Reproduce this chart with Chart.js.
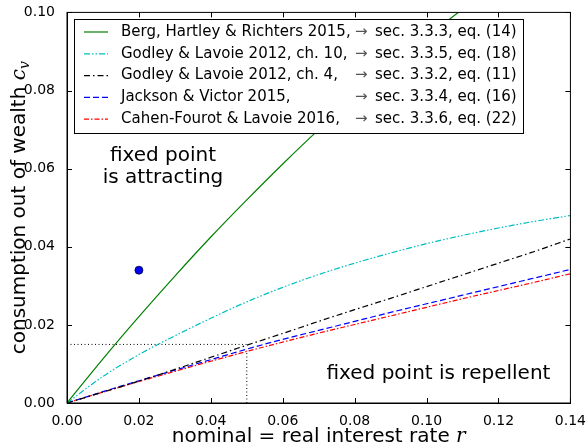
<!DOCTYPE html>
<html>
<head>
<meta charset="utf-8">
<script src="https://cdn.jsdelivr.net/npm/chart.js@4/dist/chart.umd.min.js"></script>
<style>
  html, body { margin: 0; padding: 0; background: #fff; }
  #wrap { width: 588px; height: 447px; position: relative; }
</style>
</head>
<body>
<div id="wrap"><canvas id="chart"></canvas></div>
<script>
// 利子率 r (x軸)
const rates = [0, 0.01, 0.02, 0.03, 0.04, 0.05, 0.06, 0.07, 0.08, 0.09, 0.10, 0.11, 0.12, 0.13, 0.14];

// 各モデルの c_v
const bergHartley   = [0, 0.0113, 0.0221, 0.0325, 0.0425, 0.0520, 0.0612, 0.0700, 0.0783, 0.0862, 0.0937, 0.1008, 0.1075, 0.1138, 0.1197];
const godleyCh10    = [0, 0.0068, 0.0124, 0.0172, 0.0217, 0.0259, 0.0296, 0.0329, 0.0358, 0.0384, 0.0408, 0.0429, 0.0448, 0.0465, 0.0480];
const godleyCh4     = [0, 0.0028, 0.0056, 0.0086, 0.0117, 0.0148, 0.0178, 0.0209, 0.0239, 0.0268, 0.0298, 0.0328, 0.0358, 0.0388, 0.0420];
const jacksonVictor = [0, 0.0029, 0.0057, 0.0084, 0.0111, 0.0138, 0.0163, 0.0186, 0.0209, 0.0232, 0.0254, 0.0276, 0.0298, 0.0320, 0.0342];
const cahenFourot   = [0, 0.0028, 0.0055, 0.0081, 0.0107, 0.0132, 0.0156, 0.0179, 0.0201, 0.0223, 0.0245, 0.0267, 0.0288, 0.0309, 0.0331];

// 凡例テキスト
const legendNames = [
    'Berg, Hartley & Richters 2015,',
    'Godley & Lavoie 2012, ch. 10,',
    'Godley & Lavoie 2012, ch. 4,',
    'Jackson & Victor 2015,',
    'Cahen-Fourot & Lavoie 2016,'
];
const legendRefs = [
    'sec. 3.3.3, eq. (14)',
    'sec. 3.3.5, eq. (18)',
    'sec. 3.3.2, eq. (11)',
    'sec. 3.3.4, eq. (16)',
    'sec. 3.3.6, eq. (22)'
];

// 補助線と点
const markerR = [0.02];
const markerCv = [0.034];
const guideHR = [0, 0.05];
const guideHCv = [0.015, 0.015];
const guideVR = [0.05, 0.05];
const guideVCv = [0, 0.0135];

// 目盛り
const xTicks = [0, 0.02, 0.04, 0.06, 0.08, 0.10, 0.12, 0.14];
const yTicks = [0, 0.02, 0.04, 0.06, 0.08, 0.10];

const FONT = 'DejaVu Sans';

function toPoints(xs, ys) {
    return xs.map((x, i) => ({ x: x, y: ys[i] }));
}

const curveStyles = [
    { color: '#008000', dash: [] },
    { color: '#00BFBF', dash: [6, 2, 1.5, 2, 1.5, 2] },
    { color: '#000000', dash: [6, 3, 1.5, 3] },
    { color: '#0000FF', dash: [6, 3] },
    { color: '#FF0000', dash: [5, 2, 1.5, 2] }
];
const curveData = [bergHartley, godleyCh10, godleyCh4, jacksonVictor, cahenFourot];

const datasets = curveData.map((ys, i) => ({
    label: legendNames[i],
    data: toPoints(rates, ys),
    showLine: true,
    borderColor: curveStyles[i].color,
    borderDash: curveStyles[i].dash,
    borderWidth: 1.2,
    pointRadius: 0,
    cubicInterpolationMode: 'monotone',
    fill: false
}));

datasets.push({
    data: toPoints(guideHR, guideHCv),
    showLine: true, borderColor: '#000', borderWidth: 1, borderDash: [1, 2.5], pointRadius: 0
});
datasets.push({
    data: toPoints(guideVR, guideVCv),
    showLine: true, borderColor: '#000', borderWidth: 1, borderDash: [1, 2.5], pointRadius: 0
});
datasets.push({
    data: toPoints(markerR, markerCv),
    showLine: false, pointRadius: 4, backgroundColor: '#0000FF', borderColor: '#000033', borderWidth: 0.8
});

// 枠・内向き目盛り・軸タイトル・注記・凡例を描くプラグイン
const decorPlugin = {
    id: 'decor',
    afterDatasetsDraw(chart) {
        const ctx = chart.ctx;
        const a = chart.chartArea;
        const xs = chart.scales.x;
        const ys = chart.scales.y;
        ctx.save();

        // 枠
        ctx.strokeStyle = '#000';
        ctx.lineWidth = 1;
        ctx.strokeRect(a.left, a.top, a.right - a.left, a.bottom - a.top);

        // 内向き目盛り
        ctx.beginPath();
        xTicks.forEach(v => {
            const px = Math.round(xs.getPixelForValue(v)) + 0.5;
            ctx.moveTo(px, a.bottom); ctx.lineTo(px, a.bottom - 5);
            ctx.moveTo(px, a.top); ctx.lineTo(px, a.top + 5);
        });
        yTicks.forEach(v => {
            const py = Math.round(ys.getPixelForValue(v)) + 0.5;
            ctx.moveTo(a.left, py); ctx.lineTo(a.left + 5, py);
            ctx.moveTo(a.right, py); ctx.lineTo(a.right - 5, py);
        });
        ctx.stroke();

        // 注記
        ctx.fillStyle = '#000';
        ctx.font = '20px "' + FONT + '"';
        ctx.textAlign = 'center';
        ctx.textBaseline = 'middle';
        ctx.fillText('fixed point', xs.getPixelForValue(0.0267), ys.getPixelForValue(0.0632));
        ctx.fillText('is attracting', xs.getPixelForValue(0.0267), ys.getPixelForValue(0.0576));
        ctx.fillText('fixed point is repellent', xs.getPixelForValue(0.1033), ys.getPixelForValue(0.0076));

        // 凡例
        const lx = 74, ly = 19, lw = 449, lh = 114;
        ctx.fillStyle = '#fff';
        ctx.fillRect(lx, ly, lw, lh);
        ctx.strokeStyle = '#000';
        ctx.strokeRect(lx + 0.5, ly + 0.5, lw, lh);
        ctx.font = '15px "' + FONT + '"';
        ctx.textAlign = 'left';
        legendNames.forEach((name, i) => {
            const cy = 32 + i * 21.8;
            ctx.strokeStyle = curveStyles[i].color;
            ctx.lineWidth = 1.2;
            ctx.setLineDash(curveStyles[i].dash);
            ctx.beginPath();
            ctx.moveTo(84, cy); ctx.lineTo(108, cy);
            ctx.stroke();
            ctx.setLineDash([]);
            ctx.fillStyle = '#000';
            ctx.fillText(name, 121, cy);
            ctx.fillStyle = '#555';
            ctx.fillText('\u2192', 355, cy);
            ctx.fillStyle = '#000';
            ctx.fillText(legendRefs[i], 375, cy);
        });

        // x軸タイトル
        const cx = (a.left + a.right) / 2;
        const partA = 'nominal = real interest rate ';
        ctx.font = '20px "' + FONT + '"';
        const wA = ctx.measureText(partA).width;
        ctx.font = 'italic 20px "DejaVu Serif"';
        const wR = ctx.measureText('r').width;
        let x0 = cx - (wA + wR) / 2;
        ctx.textAlign = 'left';
        ctx.textBaseline = 'alphabetic';
        ctx.font = '20px "' + FONT + '"';
        ctx.fillText(partA, x0, 442);
        ctx.font = 'italic 20px "DejaVu Serif"';
        ctx.fillText('r', x0 + wA, 442);

        // y軸タイトル
        ctx.translate(25, (a.top + a.bottom) / 2);
        ctx.rotate(-Math.PI / 2);
        const partB = 'consumption out of wealth ';
        ctx.font = '20px "' + FONT + '"';
        const wB = ctx.measureText(partB).width;
        ctx.font = 'italic 20px "DejaVu Serif"';
        const wC = ctx.measureText('c').width;
        ctx.font = 'italic 14px "DejaVu Serif"';
        const wV = ctx.measureText('v').width;
        x0 = -(wB + wC + wV) / 2;
        ctx.font = '20px "' + FONT + '"';
        ctx.fillText(partB, x0, 0);
        ctx.font = 'italic 20px "DejaVu Serif"';
        ctx.fillText('c', x0 + wB, 0);
        ctx.font = 'italic 14px "DejaVu Serif"';
        ctx.fillText('v', x0 + wB + wC, 4);

        ctx.restore();
    }
};

const chart = new Chart(document.getElementById('chart'), {
    type: 'scatter',
    data: { datasets: datasets },
    plugins: [decorPlugin],
    options: {
        responsive: true,
        maintainAspectRatio: false,
        animation: false,
        layout: { padding: { top: 12, right: 14, left: 0, bottom: 0 } },
        plugins: {
            legend: { display: false },
            tooltip: { enabled: false }
        },
        scales: {
            x: {
                type: 'linear',
                min: 0,
                max: 0.14,
                afterBuildTicks: s => { s.ticks = xTicks.map(v => ({ value: v })); },
                afterFit: s => { s.height = 44; },
                ticks: {
                    callback: v => v.toFixed(2),
                    color: '#000',
                    font: { family: FONT, size: 14 },
                    padding: 2,
                    maxRotation: 0
                },
                grid: { display: false },
                border: { display: true, color: '#000', width: 1 }
            },
            y: {
                type: 'linear',
                min: 0,
                max: 0.10,
                afterBuildTicks: s => { s.ticks = yTicks.map(v => ({ value: v })); },
                afterFit: s => { s.width = 67; },
                ticks: {
                    callback: v => v.toFixed(2),
                    color: '#000',
                    font: { family: FONT, size: 14 },
                    padding: 4
                },
                grid: { display: false },
                border: { display: true, color: '#000', width: 1 }
            }
        }
    }
});
</script>
</body>
</html>
